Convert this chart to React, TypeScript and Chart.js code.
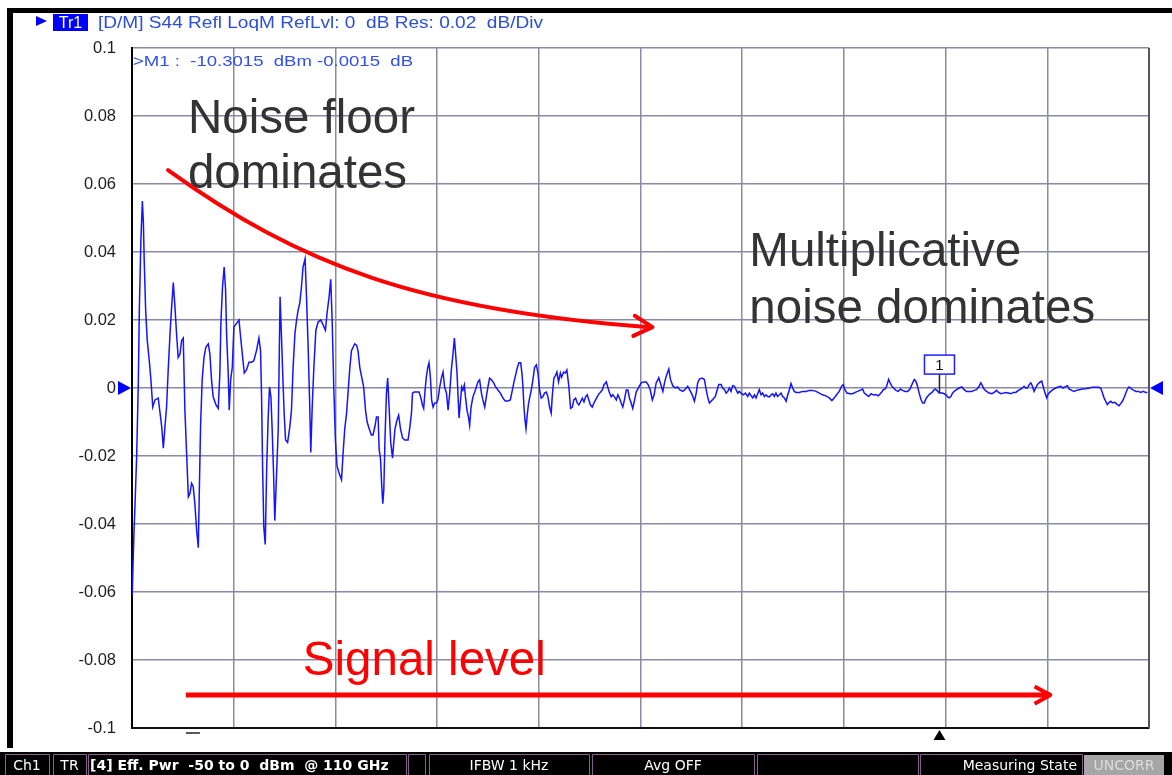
import React, { useEffect, useRef } from "react";
import { Chart, registerables } from "chart.js";

Chart.register(...registerables);

// Sweep power (dBm) of each trace point
const powerDbm = [
  -49.99, -49.95, -49.90, -49.85, -49.77, -49.69, -49.64, -49.56, -49.49, -49.44,
  -49.40, -49.33, -49.25, -49.15, -49.07, -48.98, -48.87, -48.71, -48.62, -48.54,
  -48.46, -48.38, -48.30, -48.22, -48.13, -48.05, -47.97, -47.89, -47.80, -47.73,
  -47.64, -47.56, -47.48, -47.40, -47.31, -47.23, -47.15, -47.07, -46.99, -46.91,
  -46.82, -46.74, -46.69, -46.63, -46.55, -46.46, -46.37, -46.25, -46.17, -46.09,
  -46.01, -45.87, -45.76, -45.68, -45.63, -45.55, -45.47, -45.40, -45.35, -45.27,
  -45.22, -45.15, -45.07, -44.99, -44.86, -44.74, -44.66, -44.56, -44.48, -44.37,
  -44.25, -44.12, -44.01, -43.88, -43.76, -43.68, -43.63, -43.58, -43.52, -43.45,
  -43.38, -43.31, -43.24, -43.17, -43.11, -43.04, -42.98, -42.89, -42.81, -42.77,
  -42.72, -42.65, -42.58, -42.52, -42.45, -42.35, -42.24, -42.16, -42.08, -41.99,
  -41.91, -41.83, -41.75, -41.67, -41.59, -41.49, -41.42, -41.34, -41.26, -41.21,
  -41.14, -41.06, -40.96, -40.85, -40.72, -40.60, -40.49, -40.41, -40.31, -40.23,
  -40.16, -40.08, -40.00, -39.92, -39.82, -39.70, -39.62, -39.54, -39.45, -39.38,
  -39.29, -39.21, -39.13, -39.05, -38.96, -38.89, -38.80, -38.61, -38.52, -38.44,
  -38.34, -38.23, -38.15, -38.06, -37.98, -37.90, -37.85, -37.78, -37.72, -37.67,
  -37.62, -37.56, -37.49, -37.43, -37.36, -37.28, -37.19, -37.13, -37.07, -36.97,
  -36.89, -36.80, -36.70, -36.59, -36.43, -36.35, -36.26, -36.21, -36.13, -35.99,
  -35.89, -35.81, -35.72, -35.66, -35.59, -35.53, -35.46, -35.40, -35.33, -35.27,
  -35.20, -35.12, -35.03, -34.96, -34.87, -34.79, -34.71, -34.63, -34.54, -34.46,
  -34.38, -34.30, -34.22, -34.15, -34.09, -34.02, -33.97, -33.92, -33.86, -33.79,
  -33.73, -33.66, -33.60, -33.53, -33.46, -33.40, -33.33, -33.24, -33.15, -33.07,
  -32.99, -32.91, -32.82, -32.75, -32.66, -32.58, -32.50, -32.42, -32.33, -32.22,
  -32.12, -32.01, -31.89, -31.76, -31.65, -31.52, -31.40, -31.30, -31.22, -31.14,
  -31.06, -30.98, -30.89, -30.83, -30.78, -30.73, -30.68, -30.63, -30.56, -30.50,
  -30.44, -30.37, -30.29, -30.21, -30.12, -30.04, -29.96, -29.88, -29.80, -29.72,
  -29.63, -29.55, -29.47, -29.39, -29.34, -29.26, -29.17, -29.11, -29.03, -28.94,
  -28.88, -28.78, -28.70, -28.62, -28.52, -28.44, -28.35, -28.28, -28.19, -28.11,
  -28.03, -27.95, -27.86, -27.78, -27.70, -27.62, -27.54, -27.46, -27.37, -27.29,
  -27.21, -27.13, -27.05, -26.96, -26.88, -26.80, -26.68, -26.61, -26.52, -26.44,
  -26.36, -26.28, -26.19, -26.11, -26.03, -25.95, -25.87, -25.79, -25.70, -25.62,
  -25.54, -25.46, -25.38, -25.29, -25.21, -25.08, -24.96, -24.85, -24.72, -24.62,
  -24.52, -24.42, -24.33, -24.23, -24.10, -23.98, -23.90, -23.82, -23.74, -23.61,
  -23.53, -23.41, -23.28, -23.17, -23.08, -22.92, -22.79, -22.68, -22.59, -22.46,
  -22.35, -22.26, -22.19, -22.10, -21.97, -21.86, -21.77, -21.69, -21.61, -21.53,
  -21.45, -21.32, -21.23, -21.15, -21.04, -20.96, -20.87, -20.79, -20.71, -20.63,
  -20.55, -20.47, -20.38, -20.30, -20.22, -20.14, -20.06, -19.94, -19.84, -19.73,
  -19.65, -19.56, -19.48, -19.40, -19.32, -19.24, -19.16, -19.07, -18.99, -18.91,
  -18.83, -18.75, -18.66, -18.58, -18.50, -18.42, -18.34, -18.26, -18.17, -18.09,
  -18.01, -17.93, -17.84, -17.76, -17.68, -17.60, -17.52, -17.44, -17.35, -17.19,
  -17.03, -16.86, -16.70, -16.54, -16.37, -16.21, -16.05, -15.88, -15.72, -15.59,
  -15.47, -15.36, -15.23, -15.11, -15.03, -14.95, -14.85, -14.70, -14.57, -14.44,
  -14.33, -14.21, -14.08, -14.00, -13.88, -13.78, -13.66, -13.56, -13.42, -13.31,
  -13.18, -13.06, -12.97, -12.90, -12.80, -12.74, -12.66, -12.56, -12.44, -12.33,
  -12.22, -12.12, -11.99, -11.87, -11.75, -11.66, -11.54, -11.46, -11.38, -11.30,
  -11.21, -11.13, -11.05, -10.97, -10.89, -10.77, -10.67, -10.59, -10.51, -10.43,
  -10.31, -10.23, -10.15, -10.07, -9.98, -9.90, -9.82, -9.74, -9.66, -9.58,
  -9.46, -9.33, -9.20, -9.09, -8.97, -8.84, -8.71, -8.60, -8.48, -8.35,
  -8.27, -8.19, -8.11, -7.99, -7.86, -7.73, -7.61, -7.50, -7.40, -7.28,
  -7.17, -7.04, -6.91, -6.79, -6.68, -6.55, -6.42, -6.30, -6.22, -6.14,
  -6.06, -5.98, -5.89, -5.81, -5.73, -5.65, -5.57, -5.49, -5.37, -5.27,
  -5.21, -5.11, -5.03, -4.95, -4.83, -4.72, -4.59, -4.46, -4.34, -4.22,
  -4.09, -4.01, -3.93, -3.80, -3.68, -3.57, -3.44, -3.27, -3.11, -2.95,
  -2.78, -2.62, -2.49, -2.37, -2.29, -2.21, -2.13, -2.05, -1.96, -1.88,
  -1.80, -1.72, -1.64, -1.56, -1.47, -1.39, -1.31, -1.23, -1.14, -1.06,
  -0.98, -0.90, -0.82, -0.73, -0.65, -0.52, -0.41, -0.29, -0.16, -0.08,
];

// S44 LogM relative to the reference (dB)
const s44Db = [
  -0.061, -0.052, -0.042, -0.034, -0.020, 0.0015, 0.023, 0.044, 0.055, 0.0485,
  0.0376, 0.023, 0.014, 0.008, 0.0024, -0.0056, -0.0035, -0.003, -0.0074, -0.0114,
  -0.0177, -0.0114, -0.0056, 0.0053, 0.016, 0.024, 0.031, 0.024, 0.015, 0.009,
  0.010, 0.014, 0.0147, -0.0065, -0.020, -0.032, -0.031, -0.028, -0.029, -0.034,
  -0.042, -0.047, -0.030, -0.0114, 0.0024, 0.009, 0.012, 0.013, 0.010, 0.0024,
  -0.0026, -0.005, -0.006, 0.0044, 0.019, 0.0297, 0.0356, 0.029, 0.016, 0.0044,
  -0.0065, 0.0024, 0.006, 0.018, 0.019, 0.020, 0.015, 0.009, 0.0044, 0.0053,
  0.0076, 0.0076, 0.008, 0.011, 0.0147, 0.011, -0.0026, -0.023, -0.041, -0.046,
  -0.024, -0.0094, 0.0003, -0.0026, -0.012, -0.025, -0.039, -0.025, -0.012, 0.0053,
  0.0268, 0.015, 0.0024, -0.0074, -0.0153, -0.016, -0.0114, -0.0065, 0.006, 0.016,
  0.020, 0.023, 0.025, 0.0297, 0.0356, 0.038, 0.0268, 0.012, -0.0056, -0.019,
  -0.0056, 0.006, 0.017, 0.0194, 0.020, 0.0185, 0.017, 0.022, 0.0268, 0.032,
  0.020, 0.0003, -0.0153, -0.023, -0.025, -0.027, -0.019, -0.012, -0.0074, -0.0015,
  0.006, 0.011, 0.012, 0.013, 0.0126, 0.011, 0.006, 0.0003, -0.0065, -0.010,
  -0.012, -0.0138, -0.0138, -0.0114, -0.0085, -0.0085, -0.018, -0.021, -0.029, -0.034,
  -0.030, -0.0144, -0.0015, 0.0029, -0.0056, -0.016, -0.0206, -0.016, -0.012, -0.0094,
  -0.008, -0.012, -0.0147, -0.0153, -0.0153, -0.012, -0.0074, -0.0015, -0.0012, -0.0012,
  -0.0012, -0.0026, -0.005, -0.006, -0.0006, 0.0032, 0.006, 0.0074, 0.0032, -0.0035,
  -0.0056, -0.0044, -0.0044, -0.0035, 0.0003, 0.0029, 0.0047, 0.0003, -0.0015, -0.0065,
  -0.0015, 0.0053, 0.010, 0.0147, 0.010, 0.0044, -0.0026, -0.0088, -0.0044, 0.0003,
  -0.0006, 0.0009, -0.003, -0.0065, -0.0085, -0.011, -0.0056, -0.0026, -0.0012, 0.0003,
  0.0018, 0.0024, -0.0015, -0.0035, -0.0056, -0.0026, 0.0003, 0.0029, 0.0024, 0.0015,
  0.0003, -0.0006, -0.0015, -0.003, -0.0038, -0.0038, -0.0035, -0.0006, 0.0018, 0.0038,
  0.0059, 0.0074, 0.0074, 0.0044, 0.0003, -0.0056, -0.0094, -0.012, -0.0074, -0.0044,
  -0.0026, -0.0006, 0.0024, 0.006, 0.0068, 0.0044, -0.0006, -0.003, -0.0026, -0.0015,
  -0.0012, -0.0026, -0.0056, -0.0074, -0.0026, 0.0029, 0.0038, 0.0047, 0.0018, 0.0044,
  0.0032, 0.0047, 0.0044, 0.0053, 0.0003, -0.006, -0.0056, -0.0035, -0.003, -0.0044,
  -0.005, -0.0041, -0.003, -0.0041, -0.0026, -0.002, -0.0035, -0.005, -0.0056, -0.0044,
  -0.0035, -0.0026, -0.0018, -0.0012, -0.0006, 0.0009, 0.0018, 0.0003, -0.0015, -0.0026,
  -0.002, -0.0026, -0.0035, -0.002, -0.003, -0.0044, -0.0056, -0.0035, -0.0006, -0.0006,
  -0.003, -0.0044, -0.006, -0.0035, -0.0012, 0.0003, 0.0015, 0.0018, 0.0018, 0.0009,
  -0.0006, -0.0035, -0.002, 0.0015, 0.003, 0.0006, -0.001, 0.0015, 0.0034, 0.0056,
  0.0026, 0.0006, 0, 0.0003, -0.0005, -0.001, -0.0003, 0.0005, -0.0005, -0.002,
  -0.0039, -0.0015, 0.0015, 0.0026, 0.0029, 0.0025, -0.0005, -0.0029, -0.0044, -0.0039,
  -0.0034, -0.0025, -0.0005, 0.001, 0.001, 0, -0.0005, -0.0015, -0.001, 0,
  -0.001, 0.0007, 0.0005, -0.0005, -0.0015, -0.001, -0.0015, -0.002, -0.0015, -0.0025,
  -0.0015, -0.0023, -0.0029, -0.002, -0.0029, -0.0017, -0.0005, -0.002, -0.0015, -0.0025,
  -0.002, -0.0025, -0.0026, -0.002, -0.0017, -0.0025, -0.0015, -0.0025, -0.002, -0.0015,
  -0.0025, -0.0029, -0.0039, -0.002, -0.0005, 0.0013, 0, -0.001, -0.0013, -0.0013,
  -0.001, -0.001, -0.0007, -0.0007, -0.001, -0.0015, -0.002, -0.0023, -0.0029, -0.0037,
  -0.0029, -0.002, -0.001, 0.0005, 0.001, -0.0005, -0.0015, -0.0017, -0.0017, -0.0013,
  -0.001, -0.0007, -0.0003, -0.0015, -0.002, -0.0025, -0.0017, -0.002, -0.002, -0.0023,
  -0.0015, -0.0005, -0.0003, 0.0005, 0.0025, 0.0017, 0.0007, 0, -0.0007, -0.001,
  -0.0003, -0.0007, -0.001, -0.001, -0.0003, 0.001, 0.0025, 0.002, 0.0005, -0.0015,
  -0.0034, -0.0044, -0.0044, -0.0032, -0.0025, -0.0017, -0.0013, -0.0007, -0.0003, -0.0007,
  -0.0015, -0.0015, -0.0015, -0.0017, -0.002, -0.0026, -0.0029, -0.0025, -0.0015, -0.001,
  -0.0005, 0, 0.0003, -0.0005, -0.001, -0.001, -0.001, -0.0007, -0.0005, 0.0005,
  0.0015, 0.0007, -0.0003, -0.001, -0.0015, -0.0017, -0.0013, -0.0007, -0.0013, -0.0017,
  -0.0015, -0.0013, -0.0015, -0.0017, -0.0013, -0.0013, -0.0007, -0.0003, 0, 0.0005,
  0, 0, 0.001, 0.0015, 0.0005, -0.001, 0, 0.001, 0.0017, 0.002,
  0.0005, -0.0015, -0.0029, -0.0017, -0.001, -0.0005, 0, 0.0003, 0.0005, 0,
  0.0005, 0.0007, -0.0003, -0.0007, -0.001, -0.0007, -0.0005, -0.0003, -0.0002, 0,
  0.0002, 0.0002, 0.0002, 0, -0.0015, -0.0029, -0.0039, -0.0049, -0.0042, -0.0039,
  -0.0044, -0.0042, -0.0044, -0.0049, -0.0052, -0.0046, -0.0039, -0.0029, -0.0015, -0.0003,
  0.0003, 0, -0.0005, -0.0007, -0.001, -0.001, -0.0013, -0.001, -0.0013, -0.0013,
];

const yTickValues = [-0.1, -0.08, -0.06, -0.04, -0.02, 0, 0.02, 0.04, 0.06, 0.08, 0.1];
const yTickLabels = ["-0.1", "-0.08", "-0.06", "-0.04", "-0.02", "0", "0.02", "0.04", "0.06", "0.08", "0.1"];
const xGridValues = [-50, -45, -40, -35, -30, -25, -20, -15, -10, -5, 0];

const markerPowerDbm = -10.3015;
const markerValueDb = -0.0015;
const markerReadout = ">M1 :  -10.3015  dBm -0.0015  dB";
const traceHeader = "[D/M] S44 Refl LoqM RefLvl: 0  dB Res: 0.02  dB/Div";

// Annotation anchors in data units (dBm, dB)
const noiseFloorLines = ["Noise floor", "dominates"];
const noiseFloorAnchor = { x: -47.25, y: [0.075, 0.0588] };
const multiplicativeLines = ["Multiplicative", "noise dominates"];
const multiplicativeAnchor = { x: -19.65, y: [0.0359, 0.0191] };
const signalLabel = "Signal level";
const signalAnchor = { x: -41.6, y: -0.0844 };
const curveArrowX = [-48.23, -41.75, -35.85, -24.56];
const curveArrowY = [0.0641, 0.0362, 0.0229, 0.0179];
const signalArrowX = [-47.35, -4.85];
const signalArrowY = -0.0903;

const statusBoxes = [
  { x: 5, w: 44, text: "Ch1", align: "center", bold: false },
  { x: 53, w: 33, text: "TR", align: "center", bold: false },
  { x: 88, w: 318, text: "[4] Eff. Pwr  -50 to 0  dBm  @ 110 GHz", align: "left", bold: true },
  { x: 408, w: 17, text: "", align: "center", bold: false },
  { x: 429, w: 160, text: "IFBW 1 kHz", align: "center", bold: false },
  { x: 592, w: 162, text: "Avg OFF", align: "center", bold: false },
  { x: 757, w: 161, text: "", align: "center", bold: false },
  { x: 920, w: 162, text: "Measuring State", align: "right", bold: false },
];

const SANS = '"Liberation Sans", Arial, sans-serif';

function drawHead(ctx: CanvasRenderingContext2D, tx: number, ty: number, ang: number, len: number, spread: number) {
  ctx.beginPath();
  ctx.moveTo(tx - len * Math.cos(ang - spread), ty - len * Math.sin(ang - spread));
  ctx.lineTo(tx, ty);
  ctx.lineTo(tx - len * Math.cos(ang + spread), ty - len * Math.sin(ang + spread));
  ctx.stroke();
}

// draw text stretched horizontally to a given width (instrument font is wider than Arial)
function fillTextWidth(ctx: CanvasRenderingContext2D, text: string, x: number, y: number, width: number) {
  const m = ctx.measureText(text).width;
  ctx.save();
  ctx.translate(x, y);
  ctx.scale(width / m, 1);
  ctx.fillText(text, 0, 0);
  ctx.restore();
}

const overlayPlugin = {
  id: "vnaOverlay",
  afterDraw(chart: any) {
    const ctx: CanvasRenderingContext2D = chart.ctx;
    const ca = chart.chartArea;
    const xs = chart.scales.x;
    const ys = chart.scales.y;
    const X = (v: number) => xs.getPixelForValue(v);
    const Y = (v: number) => ys.getPixelForValue(v);
    ctx.save();

    // darker right edge of the grid
    ctx.strokeStyle = "#55556a";
    ctx.lineWidth = 2;
    ctx.beginPath();
    ctx.moveTo(ca.right, ca.top);
    ctx.lineTo(ca.right, ca.bottom);
    ctx.stroke();

    // window frame bars
    ctx.fillStyle = "#000";
    ctx.fillRect(7, 8, 1165, 5);
    ctx.fillRect(7, 8, 6, 740);

    // header
    ctx.fillStyle = "#0000ff";
    ctx.beginPath();
    ctx.moveTo(36, 16);
    ctx.lineTo(36, 26);
    ctx.lineTo(47, 21);
    ctx.closePath();
    ctx.fill();
    ctx.fillRect(53, 14, 35, 17);
    ctx.fillStyle = "#fff";
    ctx.font = `16px ${SANS}`;
    ctx.textAlign = "center";
    ctx.textBaseline = "alphabetic";
    ctx.fillText("Tr1", 70.5, 28);
    ctx.fillStyle = "#2d4ed8";
    ctx.textAlign = "left";
    ctx.font = `16px ${SANS}`;
    fillTextWidth(ctx, traceHeader, 98, 28, 445);

    // marker readout
    ctx.fillStyle = "#3050e8";
    ctx.font = `15px ${SANS}`;
    fillTextWidth(ctx, markerReadout, ca.left + 1, 66, 280);

    // zero reference triangles
    const y0 = Y(0);
    ctx.fillStyle = "#0000ff";
    ctx.beginPath();
    ctx.moveTo(ca.left - 1, y0);
    ctx.lineTo(ca.left - 14, y0 - 7);
    ctx.lineTo(ca.left - 14, y0 + 7);
    ctx.closePath();
    ctx.fill();
    ctx.beginPath();
    ctx.moveTo(ca.right + 1, y0);
    ctx.lineTo(ca.right + 14, y0 - 7);
    ctx.lineTo(ca.right + 14, y0 + 7);
    ctx.closePath();
    ctx.fill();

    // marker 1
    const mx = X(markerPowerDbm);
    const my = Y(markerValueDb);
    ctx.strokeStyle = "#222";
    ctx.lineWidth = 1.5;
    ctx.beginPath();
    ctx.moveTo(mx, my);
    ctx.lineTo(mx, my - 19);
    ctx.stroke();
    ctx.fillStyle = "#fff";
    ctx.fillRect(mx - 15, my - 38, 30, 19);
    ctx.strokeStyle = "#1f1fff";
    ctx.lineWidth = 1.5;
    ctx.strokeRect(mx - 15, my - 38, 30, 19);
    ctx.fillStyle = "#111";
    ctx.font = `15px ${SANS}`;
    ctx.textAlign = "center";
    ctx.fillText("1", mx, my - 23);
    // marker stimulus triangle under the grid
    ctx.fillStyle = "#000";
    ctx.beginPath();
    ctx.moveTo(mx, ca.bottom + 2);
    ctx.lineTo(mx - 6, ca.bottom + 12);
    ctx.lineTo(mx + 6, ca.bottom + 12);
    ctx.closePath();
    ctx.fill();
    // small dash under the grid
    ctx.strokeStyle = "#222";
    ctx.lineWidth = 1.5;
    ctx.beginPath();
    ctx.moveTo(X(signalArrowX[0]), ca.bottom + 5);
    ctx.lineTo(X(signalArrowX[0]) + 14, ca.bottom + 5);
    ctx.stroke();

    // annotation texts
    ctx.textAlign = "left";
    ctx.font = `47.5px ${SANS}`;
    ctx.fillStyle = "#333333";
    noiseFloorLines.forEach((t, i) => ctx.fillText(t, X(noiseFloorAnchor.x), Y(noiseFloorAnchor.y[i])));
    multiplicativeLines.forEach((t, i) => ctx.fillText(t, X(multiplicativeAnchor.x), Y(multiplicativeAnchor.y[i])));
    ctx.fillStyle = "#ff0000";
    ctx.fillText(signalLabel, X(signalAnchor.x), Y(signalAnchor.y));

    // red arrows
    ctx.strokeStyle = "#ff0000";
    ctx.lineCap = "round";
    ctx.lineJoin = "round";
    ctx.lineWidth = 4;
    const p = curveArrowX.map((v, i) => ({ x: X(v), y: Y(curveArrowY[i]) }));
    ctx.beginPath();
    ctx.moveTo(p[0].x, p[0].y);
    ctx.bezierCurveTo(p[1].x, p[1].y, p[2].x, p[2].y, p[3].x, p[3].y);
    ctx.stroke();
    const ang = Math.atan2(p[3].y - p[2].y, p[3].x - p[2].x);
    drawHead(ctx, p[3].x + 3, p[3].y, ang, 21, 0.5);

    ctx.lineWidth = 5;
    ctx.lineCap = "butt";
    const sy = Y(signalArrowY);
    ctx.beginPath();
    ctx.moveTo(X(signalArrowX[0]), sy);
    ctx.lineTo(X(signalArrowX[1]), sy);
    ctx.stroke();
    ctx.lineWidth = 4;
    drawHead(ctx, X(signalArrowX[1]), sy, 0, 18, 0.5);

    // status bar
    ctx.fillStyle = "#000";
    ctx.fillRect(0, 752, 1172, 23);
    ctx.lineWidth = 1;
    ctx.textBaseline = "middle";
    statusBoxes.forEach((b) => {
      ctx.strokeStyle = "#86608a";
      ctx.strokeRect(b.x + 0.5, 754.5, b.w, 22);
      if (!b.text) return;
      ctx.fillStyle = "#fff";
      ctx.font = `${b.bold ? "bold " : ""}14px "DejaVu Sans", sans-serif`;
      if (b.align === "center") {
        ctx.textAlign = "center";
        ctx.fillText(b.text, b.x + b.w / 2, 766);
      } else if (b.align === "left") {
        ctx.textAlign = "left";
        ctx.fillText(b.text, b.x + 2, 766);
      } else {
        ctx.textAlign = "right";
        ctx.fillText(b.text, b.x + b.w - 5, 766);
      }
    });
    ctx.fillStyle = "#a6a6a6";
    ctx.fillRect(1084, 755, 80, 20);
    ctx.fillStyle = "#dcdcdc";
    ctx.textAlign = "center";
    ctx.font = `14px "DejaVu Sans", sans-serif`;
    ctx.fillText("UNCORR", 1124, 766);

    ctx.restore();
  },
};

export default function App() {
  const ref = useRef<HTMLCanvasElement>(null);
  useEffect(() => {
    const canvas = ref.current;
    if (!canvas) return;
    const points = powerDbm.map((x, i) => ({ x, y: s44Db[i] }));
    const chart = new Chart(canvas, {
      type: "line",
      data: {
        datasets: [
          {
            data: points,
            borderColor: "#1414ff",
            borderWidth: 1.5,
            pointRadius: 0,
            tension: 0,
            fill: false,
          },
        ],
      },
      options: {
        animation: false,
        responsive: false,
        devicePixelRatio: 1,
        layout: { padding: { left: 0, top: 48, right: 23, bottom: 47 } },
        plugins: {
          legend: { display: false },
          tooltip: { enabled: false },
          title: { display: false },
        },
        scales: {
          x: {
            type: "linear",
            min: -50,
            max: 0,
            afterBuildTicks: (s: any) => {
              s.ticks = xGridValues.map((v) => ({ value: v }));
            },
            afterFit: (s: any) => {
              s.height = 0;
            },
            ticks: { display: false },
            grid: { color: "#8a8aa2", lineWidth: 1.5, drawTicks: false },
            border: { display: true, color: "#111", width: 2 },
          },
          y: {
            type: "linear",
            min: -0.1,
            max: 0.1,
            afterBuildTicks: (s: any) => {
              s.ticks = yTickValues.map((v) => ({ value: v }));
            },
            afterFit: (s: any) => {
              s.width = 132;
            },
            ticks: {
              padding: 16,
              color: "#1e1e1e",
              font: { family: SANS, size: 16.5 },
              callback: (v: any) => {
                const i = yTickValues.findIndex((t) => Math.abs(t - Number(v)) < 1e-9);
                return i >= 0 ? yTickLabels[i] : "";
              },
            },
            grid: { color: "#8a8aa2", lineWidth: 1.5, drawTicks: false },
            border: { display: true, color: "#000", width: 2 },
          },
        },
      },
      plugins: [overlayPlugin],
    } as any);
    return () => chart.destroy();
  }, []);
  return (
    <div style={{ position: "absolute", left: 0, top: 0, width: 1172, height: 775, background: "#fff" }}>
      <canvas ref={ref} width={1172} height={775} style={{ display: "block", width: 1172, height: 775 }} />
    </div>
  );
}
